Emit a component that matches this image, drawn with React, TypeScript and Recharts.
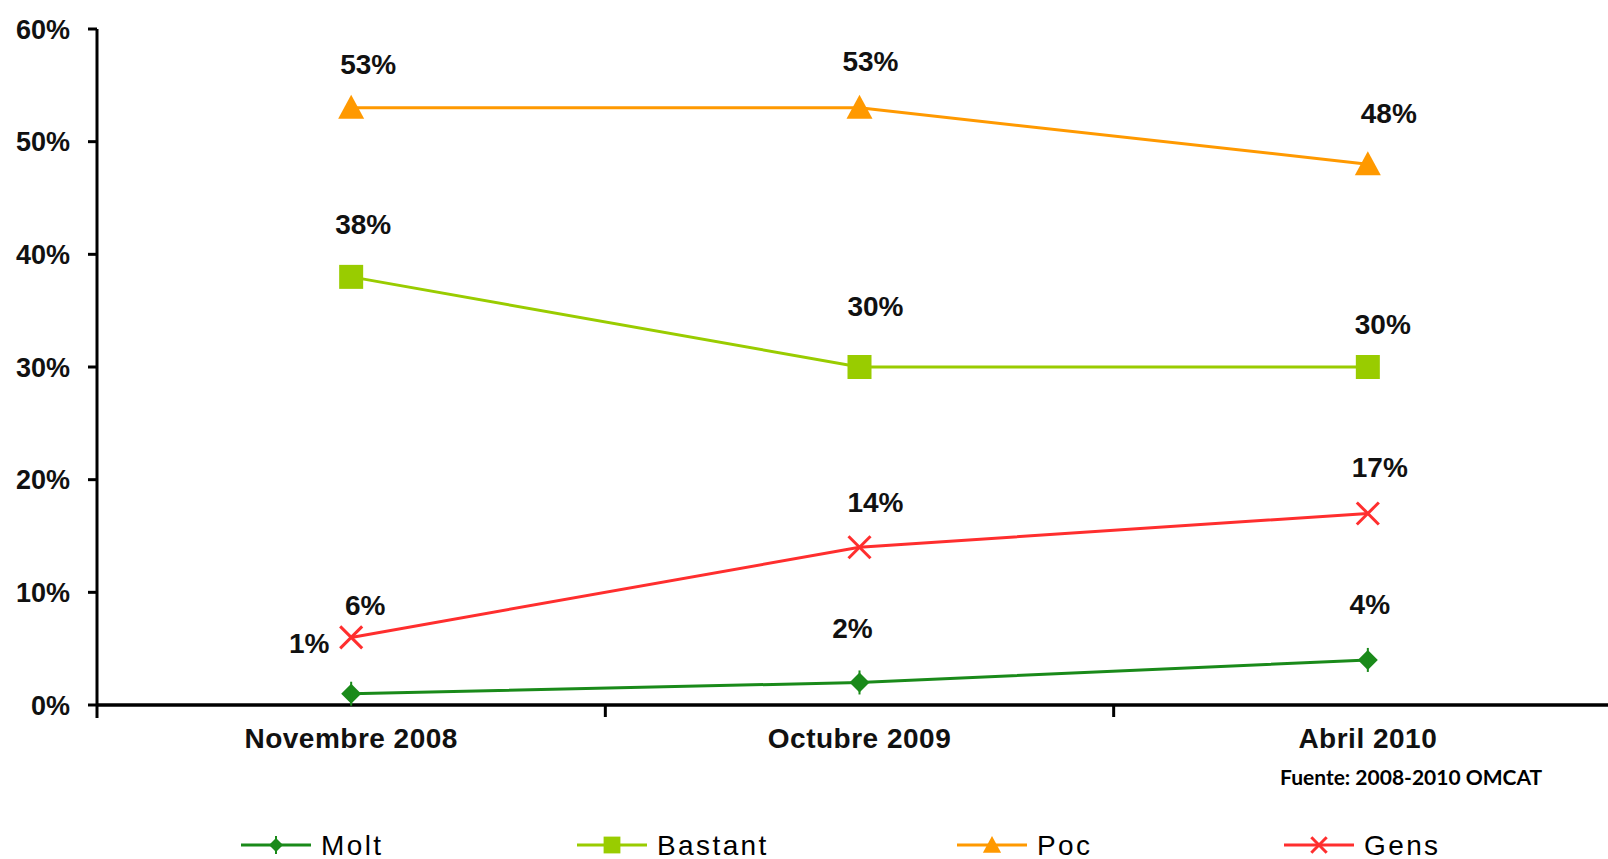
import React from 'react';
import { LineChart, Line, XAxis, YAxis, LabelList } from 'recharts';

// ---- data ----
const categories = ['Novembre 2008', 'Octubre 2009', 'Abril 2010'];
const molt = [1, 2, 4];
const bastant = [38, 30, 30];
const poc = [53, 53, 48];
const gens = [6, 14, 17];
const yTicks = [0, 10, 20, 30, 40, 50, 60];
const seriesNames = ['Molt', 'Bastant', 'Poc', 'Gens'];
const sourceText = 'Fuente: 2008-2010 OMCAT';

const data = categories.map((c, i) => ({
  cat: c,
  Molt: molt[i],
  Bastant: bastant[i],
  Poc: poc[i],
  Gens: gens[i],
}));

// ---- layout / style ----
const CHART_W = 1626;
const CHART_H = 859;
const MARGIN = { top: 29, right: 4, left: 0, bottom: 0 };
const Y_W = 97;
const X_H = 154;
const PLOT_W = CHART_W - MARGIN.left - MARGIN.right - Y_W;
const BAND = PLOT_W / categories.length;
const FONT = "'Liberation Sans', Arial, sans-serif";

const colors: Record<string, string> = {
  Molt: '#1a8a1a',
  Bastant: '#99cc00',
  Poc: '#ff9900',
  Gens: '#ff2e2e',
};

// label offsets (dx, dy) from each point
const labelOffsets: Record<string, number[][]> = {
  Molt: [[-42, -50], [-7, -54], [2, -55]],
  Bastant: [[12, -52], [16, -61], [15, -43]],
  Poc: [[17, -43], [11, -46], [21, -51]],
  Gens: [[14, -32], [16, -45], [12, -46]],
};

const Marker = ({ name, cx, cy, scale = 1 }: any) => {
  const c = colors[name];
  if (name === 'Molt') {
    const r = 10 * scale;
    return (
      <g>
        <polygon points={`${cx},${cy - r} ${cx + r},${cy} ${cx},${cy + r} ${cx - r},${cy}`} fill={c} />
        <line x1={cx} x2={cx} y1={cy - r - 2} y2={cy + r + 2} stroke={c} strokeWidth={2} />
      </g>
    );
  }
  if (name === 'Bastant') {
    const s = 12 * scale;
    return <rect x={cx - s} y={cy - s} width={2 * s} height={2 * s} fill={c} />;
  }
  if (name === 'Poc') {
    const w = 13 * scale;
    return <polygon points={`${cx},${cy - 13 * scale} ${cx + w},${cy + 11 * scale} ${cx - w},${cy + 11 * scale}`} fill={c} />;
  }
  const r = 11 * scale;
  return (
    <g stroke={c} strokeWidth={3}>
      <line x1={cx - r} y1={cy - r} x2={cx + r} y2={cy + r} />
      <line x1={cx - r} y1={cy + r} x2={cx + r} y2={cy - r} />
    </g>
  );
};

const makeLabel = (name: string) => (props: any) => {
  const { x, y, value, index } = props;
  const off = labelOffsets[name][index] || [0, -40];
  return (
    <text
      key={`lbl-${name}-${index}`}
      x={x + off[0]}
      y={y + off[1]}
      textAnchor="middle"
      dominantBaseline="central"
      fontFamily={FONT}
      fontWeight="bold"
      fontSize={28}
      fill="#111"
    >
      {`${value}%`}
    </text>
  );
};

const XTick = (props: any) => {
  const { x, y, payload, index } = props;
  const axisY = y - 24;
  return (
    <g>
      <text
        x={x}
        y={axisY + 33}
        textAnchor="middle"
        dominantBaseline="central"
        fontFamily={FONT}
        fontWeight="bold"
        fontSize={28}
        letterSpacing={0.5}
        fill="#111"
      >
        {payload.value}
      </text>
      {index === 0 && (
        <line x1={x - BAND / 2} x2={x - BAND / 2} y1={axisY} y2={axisY + 13} stroke="#000" strokeWidth={3} />
      )}
      {index < categories.length - 1 && (
        <line x1={x + BAND / 2} x2={x + BAND / 2} y1={axisY} y2={axisY + 12} stroke="#000" strokeWidth={3} />
      )}
    </g>
  );
};

const legendX = [241, 577, 957, 1284];
const LEGEND_Y = 845;

export default function App() {
  return (
    <div style={{ position: 'absolute', left: 0, top: 0, width: 1608, height: 859, overflow: 'hidden', background: '#fff' }}>
      <LineChart width={CHART_W} height={CHART_H} data={data} margin={MARGIN}>
        <XAxis
          dataKey="cat"
          height={X_H}
          padding={{ left: BAND / 2, right: BAND / 2 }}
          tickLine={false}
          tickSize={0}
          tickMargin={24}
          axisLine={{ stroke: '#000', strokeWidth: 3.5 }}
          tick={<XTick />}
          interval={0}
        />
        <YAxis
          width={Y_W}
          domain={[0, 60]}
          ticks={yTicks}
          interval={0}
          tickSize={9}
          tickMargin={18}
          axisLine={{ stroke: '#000', strokeWidth: 3 }}
          tickLine={{ stroke: '#000', strokeWidth: 3 }}
          tickFormatter={(v: number) => `${v}%`}
          tick={{ fill: '#111', fontSize: 27, fontWeight: 'bold', fontFamily: FONT }}
        />
        {seriesNames.map((name) => (
          <Line
            key={name}
            type="linear"
            dataKey={name}
            stroke={colors[name]}
            strokeWidth={3}
            isAnimationActive={false}
            dot={(p: any) => (
              <g key={`dot-${name}-${p.index}`}>
                <Marker name={name} cx={p.cx} cy={p.cy} />
              </g>
            )}
            activeDot={false}
          >
            <LabelList dataKey={name} content={makeLabel(name)} />
          </Line>
        ))}
      </LineChart>
      <svg
        width={1608}
        height={859}
        style={{ position: 'absolute', left: 0, top: 0, pointerEvents: 'none' }}
      >
        <text
          x={1280}
          y={776}
          dominantBaseline="central"
          fontFamily="Lato, 'Open Sans', sans-serif"
          fontWeight="bold"
          fontSize={21}
          fill="#000"
        >
          {sourceText}
        </text>
        {seriesNames.map((name, i) => (
          <g key={name}>
            <line x1={legendX[i]} x2={legendX[i] + 70} y1={LEGEND_Y} y2={LEGEND_Y} stroke={colors[name]} strokeWidth={3} />
            <Marker name={name} cx={legendX[i] + 35} cy={LEGEND_Y} scale={0.7} />
            <text
              x={legendX[i] + 80}
              y={LEGEND_Y}
              dominantBaseline="central"
              fontFamily={FONT}
              fontSize={28}
              letterSpacing={2.4}
              fill="#000"
            >
              {name}
            </text>
          </g>
        ))}
      </svg>
    </div>
  );
}
